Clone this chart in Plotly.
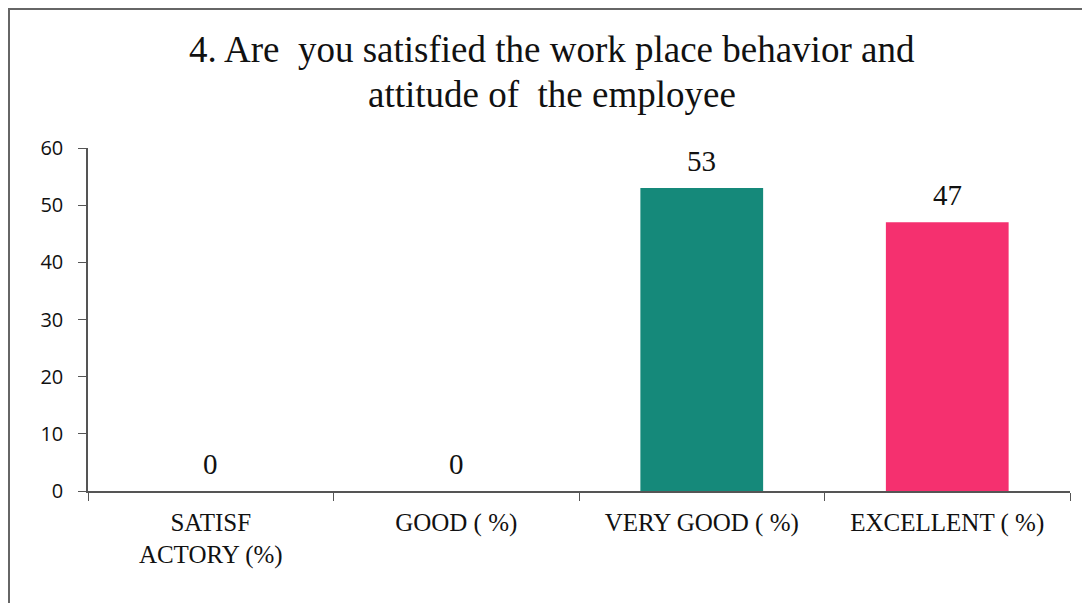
import plotly.graph_objects as go

categories = ["SATISF<br>ACTORY (%)", "GOOD ( %)", "VERY GOOD ( %)", "EXCELLENT ( %)"]
values = [0, 0, 53, 47]
colors = ["#15897A", "#15897A", "#15897A", "#F5306F"]
title_lines = ["4. Are  you satisfied the work place behavior and", "attitude of  the employee"]
y_ticks = [0, 10, 20, 30, 40, 50, 60]

# page body has an 8px margin; figure sized to fit the window
W, H = 1082, 595
L, R, T, B = 80, 20, 140, 112
pw = W - L - R
ph = H - T - B

fig = go.Figure()
fig.add_trace(go.Bar(
    x=categories, y=values,
    marker=dict(color=colors, line=dict(width=0)),
    hoverinfo="x+y",
    width=0.5,
))

# value labels above each bar
for c, v in zip(categories, values):
    fig.add_annotation(x=c, y=v, xref="x", yref="y", text=str(v),
                       showarrow=False, yanchor="middle", yshift=27,
                       font=dict(family="Liberation Serif", size=29, color="#111"))

def px_x(px):
    return (px - L) / pw

def px_y(py):
    return (H - B - py) / ph

# title, two centred lines
for i, line in enumerate(title_lines):
    fig.add_annotation(x=px_x(544), xref="paper", y=px_y(42 + 45 * i), yref="paper",
                       xanchor="center", yanchor="middle", showarrow=False,
                       text=line,
                       font=dict(family="Liberation Serif", size=37, color="#111"))

fig.update_layout(
    width=W, height=H,
    margin=dict(l=L, r=R, t=T, b=B),
    paper_bgcolor="white", plot_bgcolor="white",
    showlegend=False,
    bargap=0.5,
)
fig.update_xaxes(
    showline=True, linecolor="#555", linewidth=1.5,
    ticks="outside", tickson="boundaries", ticklen=8, tickcolor="#555",
    tickfont=dict(family="Liberation Serif", size=25, color="#111"),
    ticklabelstandoff=8,
    showgrid=False, zeroline=False,
)
fig.update_yaxes(
    range=[0, 60], tickvals=y_ticks,
    showline=True, linecolor="#555", linewidth=1.5,
    ticks="outside", ticklen=8, tickcolor="#555",
    tickfont=dict(family="Open Sans", size=20, color="#111"),
    ticklabelstandoff=11,
    showgrid=False, zeroline=False,
)

# outer frame (left and top edges visible)
fig.add_shape(type="rect", xref="paper", yref="paper",
              x0=px_x(1), x1=px_x(1200), y0=px_y(700), y1=px_y(1),
              line=dict(color="#666", width=2), fillcolor="rgba(0,0,0,0)")

fig.write_html("out.html")
